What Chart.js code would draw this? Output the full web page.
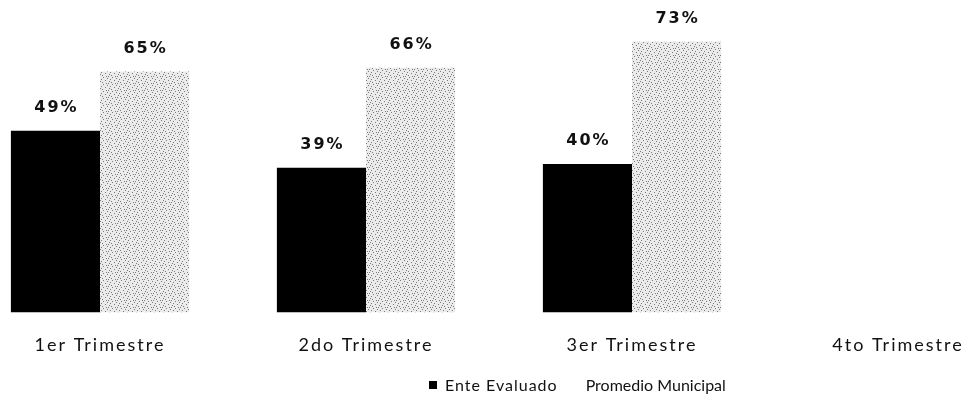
<!DOCTYPE html>
<html>
<head>
<meta charset="utf-8">
<script src="https://cdn.jsdelivr.net/npm/chart.js@4.4.1/dist/chart.umd.min.js"></script>
<style>
  html, body { margin: 0; padding: 0; background: #fff; overflow: hidden; }
  body { width: 970px; height: 408px; position: relative; font-family: Lato, "Open Sans", sans-serif; }
  #wrap { position: absolute; left: -33px; top: 0; width: 1064px; height: 380px; }
  #legend { position: absolute; left: 429px; top: 375px; }
  #legend ul { list-style: none; margin: 0; padding: 0; display: flex; }
  #legend li { display: flex; align-items: center; font-size: 16px; color: #111; }
</style>
</head>
<body>
<div id="wrap"><canvas id="chart"></canvas></div>
<div id="legend"><ul></ul></div>
<script>
// Data
const categories = ["1er Trimestre", "2do Trimestre", "3er Trimestre", "4to Trimestre"];
const enteEvaluado = [49, 39, 40, null];
const promedioMunicipal = [65, 66, 73, null];
const seriesNames = ["Ente Evaluado", "Promedio Municipal"];

// Speckled light grey fill, like the scanned bars
function speckle() {
    const c = document.createElement("canvas");
    c.width = 9;
    c.height = 7;
    const g = c.getContext("2d");
    g.fillStyle = "#ebebeb";
    g.fillRect(0, 0, 9, 7);
    g.fillStyle = "#7a7a7a";
    [[1, 0], [5, 1], [3, 3], [7, 4], [0, 5], [4, 6], [8, 2], [6, 6]].forEach(([x, y]) => g.fillRect(x, y, 1, 1));
    return g.createPattern(c, "repeat");
}

// Wider letter spacing for the axis text, as in the scan
const spacing = {
    id: "spacing",
    beforeDraw(c) {
        c.ctx.letterSpacing = "2px";
    },
    afterDraw(c) {
        c.ctx.letterSpacing = "0px";
    },
};

// Value labels above each bar
const valueLabels = {
    id: "valueLabels",
    afterDatasetsDraw(c) {
        const ctx = c.ctx;
        ctx.save();
        ctx.font = "bold 16px 'DejaVu Sans', sans-serif";
        ctx.letterSpacing = "2px";
        ctx.fillStyle = "#111";
        ctx.textAlign = "center";
        ctx.textBaseline = "bottom";
        c.data.datasets.forEach((ds, i) => {
            c.getDatasetMeta(i).data.forEach((bar, j) => {
                if (ds.data[j] == null) return;
                ctx.fillText(ds.data[j] + "%", bar.x + 1, bar.y - 15);
            });
        });
        ctx.restore();
    },
};

const htmlLegend = {
    id: "htmlLegend",
    afterUpdate(c) {
        const ul = document.querySelector("#legend ul");
        while (ul.firstChild) ul.firstChild.remove();
        c.options.plugins.legend.labels.generateLabels(c).forEach((item) => {
            const li = document.createElement("li");
            const box = document.createElement("span");
            box.style.display = "inline-block";
            box.style.width = "8px";
            box.style.height = "8px";
            box.style.marginRight = "8px";
            box.style.backgroundColor = typeof item.fillStyle === "string" ? item.fillStyle : "#ffffff";
            li.appendChild(box);
            const label = document.createElement("span");
            label.textContent = item.text;
            if (item.datasetIndex === 0) {
                label.style.letterSpacing = "1px";
                li.style.marginRight = "12px";
            }
            li.appendChild(label);
            ul.appendChild(li);
        });
    },
};

new Chart(document.getElementById("chart"), {
    type: "bar",
    data: {
        labels: categories,
        datasets: [
            { label: seriesNames[0], data: enteEvaluado, backgroundColor: "#000000" },
            { label: seriesNames[1], data: promedioMunicipal, backgroundColor: speckle() },
        ],
    },
    options: {
        responsive: true,
        maintainAspectRatio: false,
        animation: false,
        layout: { padding: { top: 1, bottom: 2, left: 0, right: 0 } },
        datasets: { bar: { categoryPercentage: 0.67, barPercentage: 1 } },
        scales: {
            x: {
                grid: { display: false, drawTicks: false },
                border: { display: false },
                ticks: { padding: 22, color: "#111", font: { family: "Lato", size: 18 } },
            },
            y: { display: false, min: 0, max: 84 },
        },
        plugins: {
            legend: { display: false },
            tooltip: { enabled: false },
        },
    },
    plugins: [spacing, valueLabels, htmlLegend],
});
</script>
</body>
</html>
